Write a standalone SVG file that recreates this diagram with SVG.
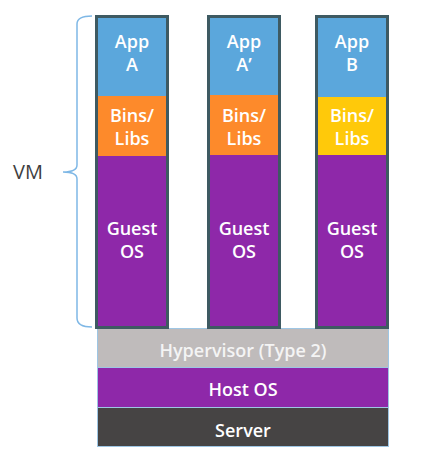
<svg xmlns="http://www.w3.org/2000/svg" width="434" height="471" viewBox="0 0 434 471">
<style>
.t{font-family:"Open Sans","Liberation Sans",sans-serif;font-size:18px;fill:#ffffff;text-anchor:middle;font-weight:600}
.frame{fill:none;stroke:#3e5a62;stroke-width:3}
.app{fill:#5ba7dc}
.orange{fill:#fd8a2b}
.yellow{fill:#ffc90a}
.purple{fill:#8e28a9}
.base{stroke:#9ec6e4;stroke-width:1}
</style>
<rect width="434" height="471" fill="#ffffff"/>
<g id="connectors">
<path d="M92,16 Q77,16 77,24 L77,165 Q77,172 63,172 Q77,172 77,179 L77,318 Q77,327 92,327" fill="none" stroke="#7fb8e6" stroke-width="1.5"/>
</g>
<g id="vm-label">
<text x="28" y="179" style="font-family:'Open Sans','Liberation Sans',sans-serif;font-size:20px;fill:#3f3f3f;text-anchor:middle">VM</text>
</g>
<g id="server">
<rect class="base" x="97.5" y="407.5" width="291" height="39" fill="#464444"/>
<text class="t" x="243" y="437">Server</text>
</g>
<g id="host-os">
<rect class="base" x="97.5" y="367.5" width="291" height="40" fill="#8e28a9"/>
<text class="t" x="243" y="396">Host OS</text>
</g>
<g id="hypervisor">
<rect class="base" x="97.5" y="328.5" width="291" height="39" fill="#bfbbbb"/>
<text class="t" x="243" y="357" style="fill:#f4f4f4">Hypervisor (Type 2)</text>
</g>
<g id="vm-a">
<rect class="app" x="96" y="16" width="72" height="80"/>
<rect class="orange" x="96" y="96" width="72" height="60"/>
<rect class="purple" x="96" y="156" width="72" height="171"/>
<rect class="frame" x="96.5" y="16.5" width="71" height="311"/>
<text class="t" x="132" y="48">App</text>
<text class="t" x="132" y="71">A</text>
<text class="t" x="132" y="122">Bins/</text>
<text class="t" x="132" y="145">Libs</text>
<text class="t" x="132" y="235">Guest</text>
<text class="t" x="132" y="258">OS</text>
</g>
<g id="vm-a-prime">
<rect class="app" x="208" y="16" width="72" height="79"/>
<rect class="orange" x="208" y="95" width="72" height="60"/>
<rect class="purple" x="208" y="155" width="72" height="172"/>
<rect class="frame" x="208.5" y="16.5" width="71" height="311"/>
<text class="t" x="244" y="48">App</text>
<text class="t" x="244" y="71">A’</text>
<text class="t" x="244" y="122">Bins/</text>
<text class="t" x="244" y="145">Libs</text>
<text class="t" x="244" y="235">Guest</text>
<text class="t" x="244" y="258">OS</text>
</g>
<g id="vm-b">
<rect class="app" x="316" y="16" width="72" height="81"/>
<rect class="yellow" x="316" y="97" width="72" height="58"/>
<rect class="purple" x="316" y="155" width="72" height="172"/>
<rect class="frame" x="316.5" y="16.5" width="71" height="311"/>
<text class="t" x="352" y="48">App</text>
<text class="t" x="352" y="71">B</text>
<text class="t" x="352" y="122">Bins/</text>
<text class="t" x="352" y="145">Libs</text>
<text class="t" x="352" y="235">Guest</text>
<text class="t" x="352" y="258">OS</text>
</g>
</svg>
